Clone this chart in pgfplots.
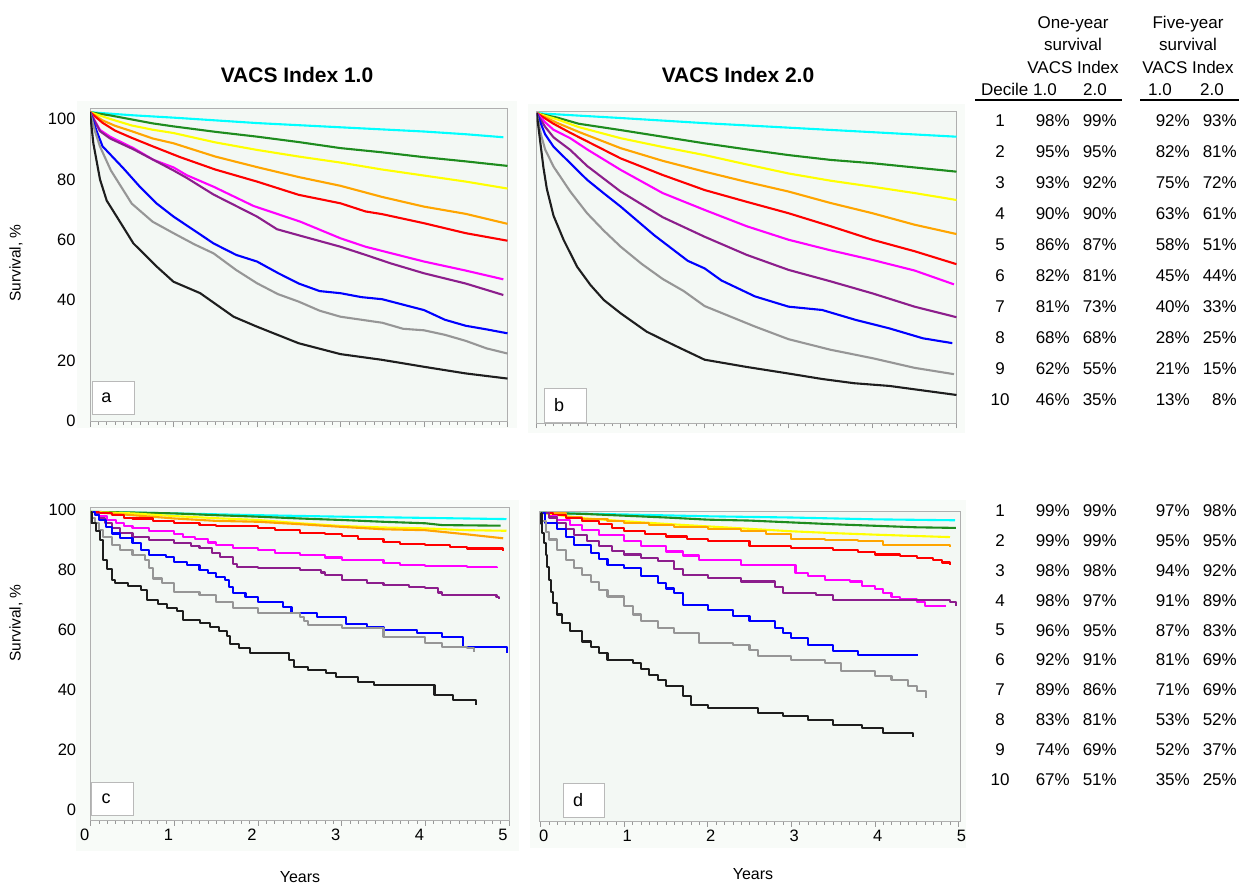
\documentclass[border=0pt]{standalone}
\usepackage{pgfplots}
\pgfplotsset{compat=1.18}
\usepackage{fontspec}
\setmainfont{Liberation Sans}

\definecolor{cCyan}{RGB}{0,255,255}
\definecolor{cGreen}{RGB}{30,140,30}
\definecolor{cYellow}{RGB}{255,255,0}
\definecolor{cOrange}{RGB}{255,165,0}
\definecolor{cRed}{RGB}{255,0,0}
\definecolor{cMag}{RGB}{255,0,255}
\definecolor{cPurple}{RGB}{140,30,140}
\definecolor{cBlue}{RGB}{0,0,255}
\definecolor{cGrey}{RGB}{150,150,150}
\definecolor{cBlack}{RGB}{30,30,30}
\definecolor{plotbg}{RGB}{243,248,244}
\definecolor{outerbg}{RGB}{248,251,248}
\definecolor{framegray}{RGB}{175,175,175}

\pgfplotsset{
  kmaxis/.style={
    scale only axis, anchor=south west,
    xmin=0, xmax=5,
    axis background/.style={fill=plotbg},
    axis line style={draw=framegray, line width=0.9pt},
    xtick={0,1,2,3,4,5}, minor x tick num=9,
    xtick pos=left, ytick pos=left,
    tick align=outside,
    major tick length=5pt, minor tick length=3pt,
    xtick style={draw=gray!80, line width=0.6pt},
    tick label style={font=\fontsize{16.5}{16.5}\selectfont},
    /pgf/number format/assume math mode=true,
    every axis plot/.append style={line width=2.1pt, no markers, line join=round},
  },
  leftpanel/.style={ytick={0,20,...,100}, ytick style={draw=none},
    yticklabel style={xshift=-6pt}},
  rightpanel/.style={ytick=\empty, minor ytick={0,5,...,100},
    ytick style={draw=gray!70, line width=0.4pt}},
  km/.style={const plot},
}

\begin{document}
\begin{tikzpicture}
\path[use as bounding box] (0,0) rectangle (1239pt,886pt);

% faint panel backgrounds
\begin{scope}[x=1pt, y=-1pt, shift={(0pt,886pt)}]
  \fill[outerbg] (77,101) rectangle (517,428);
  \fill[outerbg] (528,104) rectangle (965,433);
  \fill[outerbg] (76,500) rectangle (519,851);
  \fill[outerbg] (530,500) rectangle (966,848);
\end{scope}

% ---- a: VACS Index 1.0, top
\begin{axis}[kmaxis, leftpanel, at={(90pt,464.3pt)},
  width=417.5pt, height=313.4pt, ymin=-0.3, ymax=103.6, xticklabels={}]
\addplot[cCyan] coordinates {(0,102.3) (0.5,101.3) (1,100.5) (1.5,99.6) (2,98.7) (2.5,98.0) (3,97.3) (3.5,96.6) (4,95.9) (4.5,95.0) (4.95,94.0)};
\addplot[cGreen] coordinates {(0,102.3) (0.25,101.2) (0.5,99.9) (0.75,98.6) (1,97.6) (1.5,95.8) (2,94.2) (2.5,92.4) (3,90.4) (3.5,89.0) (4,87.4) (4.5,86.0) (5,84.5)};
\addplot[cYellow] coordinates {(0,102.3) (0.25,100.0) (0.5,97.9) (0.75,96.5) (1,95.4) (1.5,92.3) (2,89.8) (2.5,87.6) (3,85.6) (3.5,83.3) (4,81.3) (4.5,79.3) (5,77.0)};
\addplot[cOrange] coordinates {(0,102.3) (0.15,99.6) (0.3,97.8) (0.5,96.0) (0.75,93.6) (1,92.0) (1.5,87.6) (2,84.1) (2.5,80.8) (3,77.9) (3.5,74.2) (4,71.0) (4.5,68.6) (5,65.3)};
\addplot[cRed] coordinates {(0,102.3) (0.15,98.8) (0.3,96.2) (0.5,93.8) (0.75,91.0) (1.08,87.4) (1.5,83.3) (2,79.3) (2.5,74.9) (3,72.1) (3.3,69.4) (3.5,68.5) (4,65.5) (4.5,62.2) (5,59.7)};
\addplot[cMag] coordinates {(0,102.3) (0.12,96.4) (0.24,94.2) (0.52,90.4) (0.76,86.5) (1,84.0) (1.16,81.4) (1.48,77.6) (1.96,71.2) (2.52,66.0) (3,60.5) (3.3,57.7) (4,52.8) (4.5,49.8) (4.95,46.9)};
\addplot[cPurple] coordinates {(0,102.3) (0.12,96.0) (0.24,93.6) (0.52,90.0) (0.76,86.5) (1,83.0) (1.16,80.5) (1.48,75.0) (2,67.7) (2.24,63.5) (2.5,61.5) (3,57.7) (3.3,55.0) (3.6,52.2) (4,48.9) (4.5,45.5) (4.95,41.7)};
\addplot[cBlue] coordinates {(0,102.3) (0.08,96.0) (0.15,91.0) (0.4,83.7) (0.6,77.5) (0.8,72.0) (1,67.7) (1.2,64.0) (1.48,58.8) (1.75,55.0) (2,52.8) (2.25,49.0) (2.5,45.5) (2.75,43.0) (3,42.3) (3.25,41.0) (3.5,40.3) (3.75,38.5) (4,36.7) (4.25,33.5) (4.5,31.5) (4.75,30.3) (5,29.0)};
\addplot[cGrey] coordinates {(0,102.3) (0.06,96.0) (0.12,90.9) (0.25,83.0) (0.5,72.0) (0.75,66.0) (1,62.2) (1.25,58.5) (1.48,55.5) (1.75,50.0) (2,45.6) (2.25,42.0) (2.5,39.5) (2.75,36.5) (3,34.5) (3.25,33.5) (3.5,32.5) (3.75,30.5) (4,30.0) (4.25,28.5) (4.5,26.5) (4.75,24.0) (5,22.3)};
\addplot[cBlack] coordinates {(0,102.3) (0.04,92.0) (0.08,86.0) (0.12,80.0) (0.2,73.0) (0.32,67.7) (0.52,58.8) (0.8,51.1) (1,46.1) (1.32,42.3) (1.72,34.5) (2,31.2) (2.5,25.7) (3,22.1) (3.5,20.2) (4,17.9) (4.5,15.7) (5,14.0)};
\end{axis}

% ---- b: VACS Index 2.0, top
\begin{axis}[kmaxis, rightpanel, at={(536.7pt,462.7pt)},
  width=419.8pt, height=311.6pt, ymin=-0.9, ymax=102.5, xticklabels={}]
\addplot[cCyan] coordinates {(0,102.0) (1,100.4) (2,98.7) (3,97.2) (4,95.7) (5,94.2)};
\addplot[cGreen] coordinates {(0,102.0) (0.25,100.5) (0.5,98.5) (1,96.4) (1.5,94.2) (2,92.0) (2.5,90.0) (3,88.1) (3.5,86.5) (4,85.4) (4.5,84.0) (5,82.6)};
\addplot[cYellow] coordinates {(0,102.0) (0.25,99.9) (0.5,97.4) (1,93.7) (1.5,90.8) (2,88.1) (2.5,85.0) (3,82.0) (3.5,79.6) (4,77.6) (4.5,75.5) (5,73.2)};
\addplot[cOrange] coordinates {(0,102.0) (0.25,98.7) (0.5,95.8) (1,90.4) (1.5,86.2) (2,82.6) (2.5,79.2) (3,76.0) (3.5,72.2) (4,68.8) (4.5,65.0) (5,61.9)};
\addplot[cRed] coordinates {(0,102.0) (0.2,98.5) (0.4,95.5) (1,87.0) (1.5,81.5) (2,76.5) (2.5,72.6) (3,68.8) (3.5,64.5) (4,60.0) (4.5,56.2) (5,51.9)};
\addplot[cMag] coordinates {(0,102.0) (0.1,99.0) (0.2,96.5) (0.4,93.7) (0.6,90.0) (1,83.2) (1.5,75.5) (2,69.9) (2.5,64.5) (3,60.0) (3.5,56.5) (4,53.3) (4.5,49.8) (4.97,45.2)};
\addplot[cPurple] coordinates {(0,102.0) (0.1,97.5) (0.2,94.0) (0.4,89.8) (0.6,84.5) (1,76.0) (1.5,67.5) (2,61.0) (2.5,55.0) (3,50.0) (3.5,46.2) (4,42.2) (4.5,37.8) (5,34.3)};
\addplot[cBlue] coordinates {(0,102.0) (0.1,95.0) (0.2,90.9) (0.4,85.4) (0.6,79.9) (0.8,75.4) (1,71.0) (1.4,61.5) (1.8,53.0) (2,50.5) (2.2,46.5) (2.6,41.2) (3,37.8) (3.4,36.7) (3.8,33.4) (4.2,30.6) (4.6,27.3) (4.95,25.7)};
\addplot[cGrey] coordinates {(0,102.0) (0.05,95.0) (0.1,90.0) (0.2,84.3) (0.4,76.0) (0.6,68.8) (0.8,63.0) (1,57.7) (1.25,52.0) (1.5,47.0) (1.75,43.0) (2,38.0) (2.6,31.2) (3,27.0) (3.5,23.5) (4,20.7) (4.5,17.5) (4.97,15.4)};
\addplot[cBlack] coordinates {(0,102.0) (0.04,93.0) (0.08,84.0) (0.12,77.0) (0.2,68.0) (0.32,60.0) (0.48,51.1) (0.64,45.0) (0.8,40.0) (1,35.6) (1.31,29.5) (1.63,25.1) (2,20.2) (2.5,17.8) (2.98,15.7) (3.4,13.8) (3.78,12.4) (4.2,11.5) (4.6,10.0) (5,8.5)};
\end{axis}

% ---- c: VACS Index 1.0, bottom
\begin{axis}[kmaxis, leftpanel, at={(90.7pt,65.3pt)},
  width=418.3pt, height=313pt, ymin=-3.6, ymax=100.8,
  xticklabel style={xshift=-6pt}]
\addplot[cCyan] coordinates {(0,99.4) (1,98.9) (2,98.3) (3,97.8) (4,97.4) (4.97,97.0)};
\addplot[cGreen] coordinates {(0,99.4) (0.5,99.2) (1,98.9) (1.5,98.3) (2,97.8) (2.5,97.2) (3,96.7) (3.5,96.1) (4,95.6) (4.2,95.0) (4.9,94.8)};
\addplot[cYellow] coordinates {(0,99.4) (0.5,98.9) (1,98.0) (1.5,97.3) (2,96.7) (2.5,95.6) (3,94.7) (3.5,94.2) (4,93.9) (4.5,93.3) (4.97,93.1)};
\addplot[cOrange] coordinates {(0,99.4) (0.5,98.3) (1,97.2) (1.5,96.4) (2,96.1) (2.5,95.3) (3,94.4) (3.5,93.6) (4,93.3) (4.5,91.9) (4.93,90.6)};
\addplot[cRed, km] coordinates {(0,99.4) (0.1,98.9) (0.25,98.3) (0.4,97.5) (0.5,97.2) (0.75,96.4) (1,95.8) (1.3,95.0) (1.5,94.6) (2,93.9) (2.2,93.3) (2.5,92.4) (2.8,91.9) (3,91.3) (3.2,90.3) (3.5,89.4) (3.7,88.8) (4,88.3) (4.3,87.8) (4.5,87.2) (4.93,86.3)};
\addplot[cMag, km] coordinates {(0,99.4) (0.05,98.6) (0.1,98.0) (0.2,96.7) (0.3,95.6) (0.4,94.7) (0.5,93.9) (0.7,93.0) (1,92.0) (1.1,91.1) (1.25,90.5) (1.4,89.2) (1.5,88.3) (1.7,87.5) (2,86.7) (2.2,85.6) (2.5,85.0) (2.8,84.2) (3,83.3) (3.5,82.4) (3.7,81.7) (4,81.3) (4.5,81.0) (4.85,80.6)};
\addplot[cPurple, km] coordinates {(0,99.4) (0.05,98.6) (0.1,97.5) (0.17,95.6) (0.25,93.9) (0.35,92.5) (0.5,91.1) (0.7,90.0) (1,88.9) (1.2,88.1) (1.3,87.5) (1.45,85.6) (1.55,84.4) (1.7,81.9) (1.75,81.1) (2,80.6) (2.5,80.0) (2.75,79.2) (2.8,78.3) (3,76.7) (3.3,75.6) (3.5,75.0) (3.8,74.4) (4,73.9) (4.15,72.5) (4.2,71.7) (4.85,71.0) (4.88,70.4)};
\addplot[cBlue, km] coordinates {(0,99.4) (0.05,98.3) (0.1,96.7) (0.18,94.4) (0.25,92.2) (0.35,90.6) (0.5,88.9) (0.6,86.7) (0.7,85.0) (0.9,84.4) (1,82.8) (1.15,81.7) (1.3,80.0) (1.4,78.9) (1.5,77.8) (1.6,76.7) (1.65,74.4) (1.7,72.2) (1.85,71.1) (2,69.4) (2.3,67.8) (2.4,65.6) (2.7,64.2) (3.05,62.0) (3.3,61.1) (3.5,60.0) (3.9,58.9) (4.2,57.8) (4.45,54.4) (4.98,52.2)};
\addplot[cGrey, km] coordinates {(0,99.4) (0.02,97.5) (0.05,95.6) (0.1,93.3) (0.15,91.1) (0.25,88.3) (0.35,86.7) (0.5,85.0) (0.65,83.3) (0.7,80.6) (0.75,77.2) (0.85,75.6) (1,72.8) (1.3,71.7) (1.5,69.4) (1.7,67.2) (2,65.6) (2.5,64.4) (2.55,63.0) (2.6,61.7) (3,60.6) (3.5,57.8) (4,55.6) (4.2,54.4) (4.5,53.9) (4.58,52.8)};
\addplot[cBlack, km] coordinates {(0,99.4) (0.01,95.6) (0.06,93.0) (0.11,90.0) (0.15,83.3) (0.19,80.5) (0.25,76.7) (0.29,75.6) (0.45,74.7) (0.6,73.3) (0.67,70.0) (0.8,68.7) (0.91,67.2) (1.03,66.4) (1.1,63.3) (1.31,62.4) (1.43,61.1) (1.53,59.8) (1.63,58.0) (1.67,55.3) (1.77,53.9) (1.9,52.4) (2.31,52.4) (2.37,50.0) (2.43,47.8) (2.6,46.7) (2.81,45.6) (2.93,44.2) (3.19,42.8) (3.39,41.7) (4.07,41.7) (4.11,38.3) (4.33,36.7) (4.61,35.0)};
\end{axis}

% ---- d: VACS Index 2.0, bottom
\begin{axis}[kmaxis, rightpanel, at={(539pt,64.3pt)},
  width=421pt, height=310pt, ymin=-1.2, ymax=100.1, xmin=-0.02, xmax=5.02,
  xticklabel style={xshift=3pt}]
\addplot[cCyan] coordinates {(0,99.7) (1,99.2) (2,98.6) (3,98.2) (4,97.6) (4.96,97.3)};
\addplot[cGreen] coordinates {(0,99.7) (0.5,99.4) (1,98.8) (1.5,98.2) (2,97.5) (2.5,97.2) (3,96.6) (3.5,96.0) (4,95.5) (4.5,95.0) (4.97,94.8)};
\addplot[cYellow] coordinates {(0,99.7) (0.5,98.0) (1,97.0) (1.5,96.1) (2,95.3) (2.5,94.5) (3,93.7) (3.5,93.1) (4,92.6) (4.9,91.8)};
\addplot[cOrange, km] coordinates {(0,99.7) (0.3,98.5) (0.5,97.8) (0.8,97.0) (1,96.4) (1.3,95.8) (1.6,95.0) (2,94.4) (2.4,93.7) (2.7,92.8) (3,91.2) (3.4,90.8) (3.8,90.5) (4.1,89.3) (4.9,88.6)};
\addplot[cRed, km] coordinates {(0,99.7) (0.15,98.9) (0.3,98.0) (0.5,97.0) (0.7,96.0) (0.85,94.8) (1,93.7) (1.25,92.8) (1.5,92.0) (1.75,91.2) (2,90.4) (2.5,89.0) (3,88.2) (3.5,87.5) (3.8,86.8) (4,86.1) (4.3,85.5) (4.5,85.0) (4.7,84.2) (4.8,83.5) (4.9,82.8)};
\addplot[cMag, km] coordinates {(0,99.7) (0.1,98.6) (0.2,97.5) (0.35,95.8) (0.5,94.2) (0.7,92.5) (1,90.4) (1.2,89.0) (1.5,87.1) (1.7,85.8) (1.9,84.4) (2.4,82.8) (3.05,80.1) (3.2,79.0) (3.4,77.9) (3.7,77.3) (3.85,75.7) (4.0,74.8) (4.1,73.5) (4.2,72.3) (4.3,71.4) (4.5,70.5) (4.6,69.4) (4.85,69.4)};
\addplot[cPurple, km] coordinates {(0,99.7) (0.1,98.2) (0.2,96.4) (0.3,94.5) (0.4,92.6) (0.55,90.6) (0.7,88.8) (0.85,87.3) (1,86.1) (1.2,85.0) (1.4,83.9) (1.6,81.5) (1.7,79.5) (2,78.4) (2.4,77.3) (2.8,75.5) (2.9,73.5) (3.3,73.0) (3.5,71.1) (4.9,70.5) (4.97,69.4)};
\addplot[cBlue, km] coordinates {(0,99.7) (0.05,96.4) (0.2,94.5) (0.3,91.8) (0.4,89.3) (0.6,86.6) (0.7,84.5) (0.8,82.8) (1,81.7) (1.2,79.0) (1.4,76.8) (1.5,75.0) (1.6,73.5) (1.7,69.7) (2,68.1) (2.3,65.9) (2.5,64.3) (2.8,62.1) (2.9,60.5) (3,58.8) (3.2,56.6) (3.5,54.5) (3.8,53.4) (4.52,53.4)};
\addplot[cGrey, km] coordinates {(0,99.7) (0.02,97.0) (0.06,93.5) (0.1,91.0) (0.2,87.5) (0.3,84.4) (0.4,81.8) (0.5,79.5) (0.6,77.0) (0.7,74.6) (0.8,72.4) (1,69.2) (1.1,66.5) (1.2,64.3) (1.4,62.1) (1.6,60.5) (1.9,57.2) (2.3,56.6) (2.5,55.0) (2.6,52.8) (3,51.7) (3.4,50.7) (3.6,47.9) (4,46.3) (4.2,45.2) (4.4,43.0) (4.5,41.4) (4.61,39.2)};
\addplot[cBlack, km] coordinates {(0,99.7) (0.01,96.0) (0.02,93.0) (0.04,90.0) (0.06,86.0) (0.08,82.0) (0.1,77.9) (0.12,74.0) (0.15,70.3) (0.2,66.5) (0.25,63.7) (0.35,61.0) (0.5,57.7) (0.6,55.8) (0.7,53.9) (0.8,51.7) (1.1,50.7) (1.2,48.8) (1.3,46.8) (1.4,45.0) (1.5,43.0) (1.7,39.8) (1.8,37.0) (2,35.9) (2.6,34.3) (2.9,33.2) (3.2,32.1) (3.5,30.5) (3.85,29.4) (4.1,27.8) (4.46,26.4)};
\end{axis}

% ---- titles, labels, panel letters, tables
\begin{scope}[x=1pt, y=-1pt, shift={(0pt,886pt)}]
  \node[font=\fontsize{21}{21}\selectfont\bfseries] at (297,75) {VACS Index 1.0};
  \node[font=\fontsize{21}{21}\selectfont\bfseries] at (738,75) {VACS Index 2.0};
  \node[rotate=90, font=\fontsize{15.5}{15.5}\selectfont] at (16,263) {Survival, \%};
  \node[rotate=90, font=\fontsize{15.5}{15.5}\selectfont] at (16,623) {Survival, \%};
  \node[font=\fontsize{16}{16}\selectfont] at (300,877) {Years};
  \node[font=\fontsize{16}{16}\selectfont] at (753,874) {Years};

  \tikzset{lbox/.style={draw=gray!55, fill=white, line width=0.8pt}}
  \filldraw[lbox] (92,381) rectangle (134,414);
  \filldraw[lbox] (544,388) rectangle (586,422);
  \filldraw[lbox] (91,782) rectangle (133,815);
  \filldraw[lbox] (563,783) rectangle (604,817);
  \begin{scope}[every node/.style={font=\fontsize{18}{18}\selectfont}]
    \node at (106.5,398) {a};
    \node at (559,405) {b};
    \node at (106,799) {c};
    \node at (578,800) {d};
  \end{scope}

  \begin{scope}[every node/.style={font=\fontsize{17}{17}\selectfont, inner sep=0pt}]
    \node[anchor=base] at (1073,29) {One-year};
    \node[anchor=base] at (1073,51) {survival};
    \node[anchor=base] at (1073,74) {VACS Index};
    \node[anchor=base] at (1188,29) {Five-year};
    \node[anchor=base] at (1188,51) {survival};
    \node[anchor=base] at (1188,74) {VACS Index};
    \node[anchor=base west] at (981,96) {Decile};
    \node[anchor=base] at (1045,96) {1.0};
    \node[anchor=base] at (1095,96) {2.0};
    \node[anchor=base] at (1160,96) {1.0};
    \node[anchor=base] at (1212,96) {2.0};
    \draw[line width=2pt] (975,100) -- (1122,100);
    \draw[line width=2pt] (1140,100) -- (1239,100);

    \foreach \d/\a/\b/\c/\e [count=\i from 0] in
      {1/98/99/92/93, 2/95/95/82/81, 3/93/92/75/72, 4/90/90/63/61, 5/86/87/58/51,
       6/82/81/45/44, 7/81/73/40/33, 8/68/68/28/25, 9/62/55/21/15, 10/46/35/13/8} {
      \pgfmathsetmacro\yy{121+31*\i}
      \node at (1000,\yy) {\d};
      \node[anchor=east] at (1070,\yy) {\a\%};
      \node[anchor=east] at (1117,\yy) {\b\%};
      \node[anchor=east] at (1190,\yy) {\c\%};
      \node[anchor=east] at (1237,\yy) {\e\%};
    }
    \foreach \d/\a/\b/\c/\e [count=\i from 0] in
      {1/99/99/97/98, 2/99/99/95/95, 3/98/98/94/92, 4/98/97/91/89, 5/96/95/87/83,
       6/92/91/81/69, 7/89/86/71/69, 8/83/81/53/52, 9/74/69/52/37, 10/67/51/35/25} {
      \pgfmathsetmacro\yy{511+29.8*\i}
      \node at (1000,\yy) {\d};
      \node[anchor=east] at (1070,\yy) {\a\%};
      \node[anchor=east] at (1117,\yy) {\b\%};
      \node[anchor=east] at (1190,\yy) {\c\%};
      \node[anchor=east] at (1237,\yy) {\e\%};
    }
  \end{scope}
\end{scope}
\end{tikzpicture}
\end{document}
